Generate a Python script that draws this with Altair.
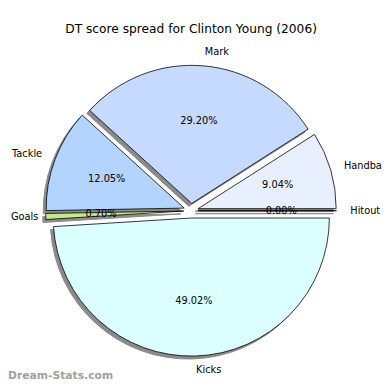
import math
import altair as alt
import pandas as pd

# ---- data ----
labels = ["Handball", "Mark", "Tackle", "Goals", "Kicks", "Hitout"]
values = [9.04, 29.20, 12.05, 0.70, 49.02, 0.00]
colors = ["#e8f0ff", "#c6d9ff", "#b3d4ff", "#c8e68c", "#dcffff", "#f0f0f0"]
title_text = "DT score spread for Clinton Young (2006)"
watermark = "Dream-Stats.com"

# ---- layout ----
W, H = 382, 378
CX, CY = 187, 203
R = 141
EXPLODE = 7.5
FONT = "DejaVu Sans"

df = pd.DataFrame({"label": labels, "value": values, "color": colors,
                   "order": list(range(len(labels)))})

base = alt.Chart(df).transform_window(
    cum="sum(value)", sort=[alt.SortField("order")], frame=[None, 0]
).transform_joinaggregate(
    total="sum(value)"
).transform_calculate(
    start="(datum.cum - datum.value) / datum.total",
    end="datum.cum / datum.total",
    mid="2 * PI * (datum.cum - datum.value / 2) / datum.total",
    cx=f"{CX} + {EXPLODE} * cos(datum.mid)",
    cy=f"{CY} - {EXPLODE} * sin(datum.mid)",
    side="cos(datum.mid) >= 0 ? 'L' : 'R'",
    lx0=f"{CX} + ({EXPLODE} + 1.1 * {R}) * cos(datum.mid)",
    lx="datum.side == 'R' ? max(datum.lx0, 31) : datum.lx0",
    ly=f"{CY} - ({EXPLODE} + 1.1 * {R}) * sin(datum.mid)",
    px=f"{CX} + ({EXPLODE} + 0.6 * {R}) * cos(datum.mid)",
    py=f"{CY} - ({EXPLODE} + 0.6 * {R}) * sin(datum.mid)",
    pct="format(100 * datum.value / datum.total, '.2f') + '%'",
)

theta_scale = alt.Scale(domain=[0, 1], range=[math.pi / 2, math.pi / 2 - 2 * math.pi])
enc = dict(
    theta=alt.Theta("start:Q", scale=theta_scale, stack=False),
    theta2="end:Q",
    x=alt.X("cx:Q", scale=None, axis=None),
    y=alt.Y("cy:Q", scale=None, axis=None),
)

shadow = base.mark_arc(radius=R, xOffset=-3, yOffset=3, fill="#8a8a8a",
                       stroke="#8a8a8a", strokeWidth=1).encode(**enc)

wedges = base.mark_arc(radius=R, stroke="black", strokeWidth=0.8).encode(
    fill=alt.Fill("color:N", scale=None), **enc
)

lab_l = base.transform_filter("datum.side == 'L'").mark_text(
    align="left", baseline="middle", font=FONT, fontSize=10, color="black"
).encode(x=alt.X("lx:Q", scale=None, axis=None), y=alt.Y("ly:Q", scale=None, axis=None),
         text="label:N")
lab_r = base.transform_filter("datum.side == 'R'").mark_text(
    align="right", baseline="middle", font=FONT, fontSize=10, color="black"
).encode(x=alt.X("lx:Q", scale=None, axis=None), y=alt.Y("ly:Q", scale=None, axis=None),
         text="label:N")
pcts = base.mark_text(
    align="center", baseline="middle", font=FONT, fontSize=10, color="black"
).encode(x=alt.X("px:Q", scale=None, axis=None), y=alt.Y("py:Q", scale=None, axis=None),
         text="pct:N")

title = alt.Chart(pd.DataFrame({"t": [title_text]})).mark_text(
    align="center", baseline="middle", font=FONT, fontSize=12.5, color="black"
).encode(x=alt.value(CX), y=alt.value(17), text="t:N")

wm = alt.Chart(pd.DataFrame({"t": [watermark]})).mark_text(
    align="left", baseline="middle", font=FONT, fontSize=11, fontWeight="bold",
    color="#a0a0a0"
).encode(x=alt.value(0), y=alt.value(372), text="t:N")

chart = alt.layer(shadow, wedges, lab_l, lab_r, pcts, title, wm).properties(
    width=W, height=H, autosize=alt.AutoSizeParams(type="none"), padding=0,
    background="white"
).configure_view(stroke=None)

chart.save("out.html", embed_options={"renderer": "svg", "actions": False})
